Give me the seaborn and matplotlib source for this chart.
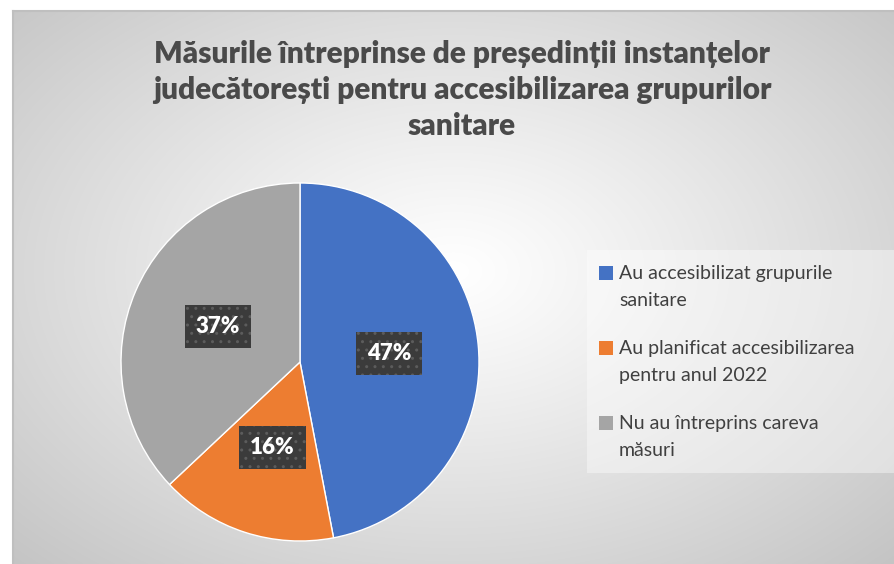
import numpy as np
import matplotlib.pyplot as plt
from matplotlib.patches import Rectangle
import seaborn as sns

title = "Măsurile întreprinse de președinții instanțelor\njudecătorești pentru accesibilizarea grupurilor\nsanitare"
labels = ["Au accesibilizat grupurile\nsanitare",
          "Au planificat accesibilizarea\npentru anul 2022",
          "Nu au întreprins careva\nmăsuri"]
values = [47, 16, 37]
colors = ["#4472C4", "#ED7D31", "#A5A5A5"]

sns.set_style("white")
plt.rcParams['font.family'] = ['Lato', 'DejaVu Sans']

W, H = 894, 564
fig = plt.figure(figsize=(W / 100, H / 100), dpi=100)

# background with radial gradient
bg = fig.add_axes([13/W, 0, 1 - 13/W, 1 - 11/H])
yy, xx = np.mgrid[0:553, 0:881]
r = np.hypot((xx - 440) / 440, (yy - 260) / 290) / np.sqrt(2)
shade = 1 - 0.23 * np.clip(r, 0, 1) ** 1.1
bg.imshow(np.dstack([shade] * 3), aspect='auto', extent=[0, 1, 0, 1])
bg.set_xticks([])
bg.set_yticks([])
for s in ['right', 'bottom']:
    bg.spines[s].set_visible(False)
for s in ['top', 'left']:
    bg.spines[s].set_color('#bfbfbf')
    bg.spines[s].set_linewidth(1.5)

fig.text(462/W, 1 - 90/H, title, ha='center', va='center', fontsize=21.5,
         fontweight='heavy', color='#4a4a4a', linespacing=1.36)

ax = fig.add_axes([121/W, 23/H, 358/W, 358/H])
wedges, _ = ax.pie(values, colors=colors, startangle=90, counterclock=False,
                   wedgeprops=dict(edgecolor='white', linewidth=1))
ax.set_xlim(-1, 1)
ax.set_ylim(-1, 1)
ax.set_aspect('equal')

# data labels in dark patterned boxes
for w, v in zip(wedges, values):
    ang = np.deg2rad((w.theta1 + w.theta2) / 2)
    d = 0.5
    ax.text(d * np.cos(ang), d * np.sin(ang), f"{v}%", ha='center', va='center',
            fontsize=16, fontweight='heavy', color='white',
            bbox=dict(boxstyle='square,pad=0.5', fc='#3b3b3b', ec='#5c5c5c',
                      hatch='..', lw=0))

# legend, drawn by hand so the marker sits on the first line
fig.patches.append(Rectangle((587/W, 1 - 473/H), (W - 587)/W, 223/H,
                             transform=fig.transFigure, fc='white', ec='none',
                             alpha=0.4, zorder=1))
for i, (lab, c) in enumerate(zip(labels, colors)):
    ytop = 265 + i * 75
    fig.patches.append(Rectangle((599/W, 1 - (ytop + 15)/H), 14/W, 14/H,
                                 transform=fig.transFigure, fc=c, ec='none',
                                 zorder=2))
    fig.text(619/W, 1 - ytop/H, lab, ha='left', va='top', fontsize=14,
             color='#404040', linespacing=1.74, zorder=3)

fig.savefig('out.png', dpi=100)
